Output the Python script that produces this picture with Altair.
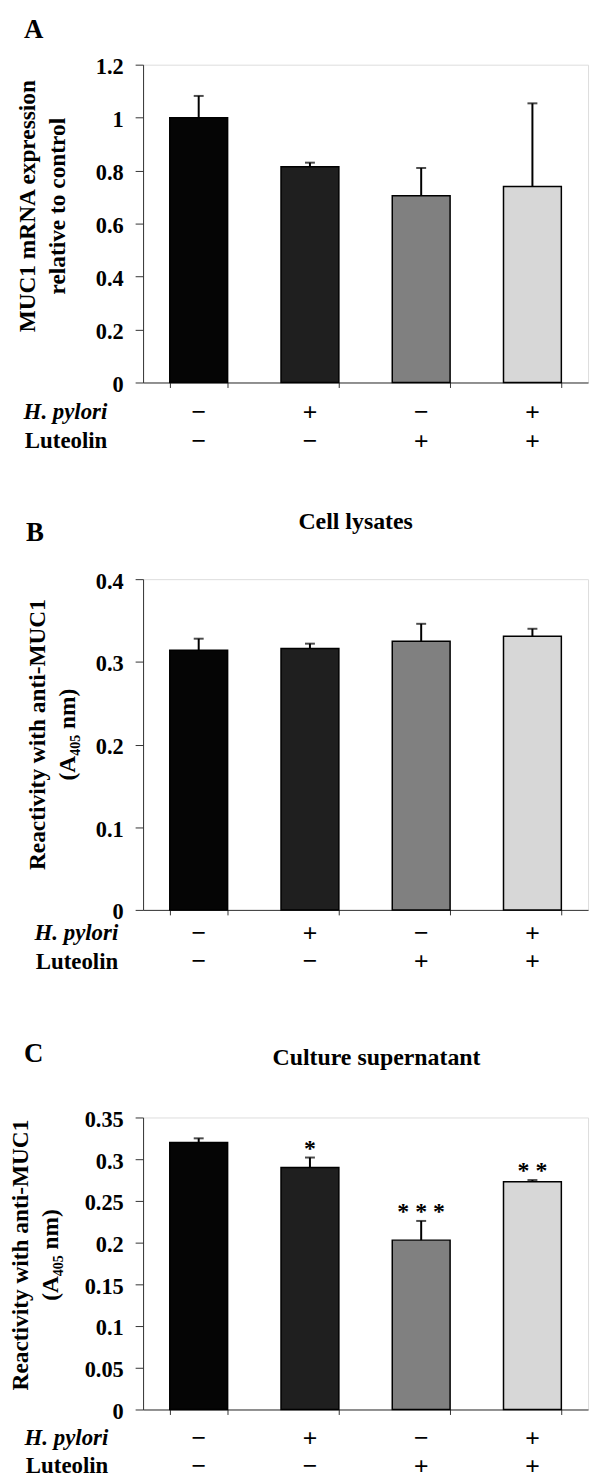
import altair as alt
import pandas as pd

# ---------------- data ----------------
conditions = ["Control", "H. pylori", "Luteolin", "H. pylori + Luteolin"]
hpylori_signs = ["−", "+", "−", "+"]
luteolin_signs = ["−", "−", "+", "+"]
bar_colors = ["#050505", "#1f1f1f", "#808080", "#d7d7d7"]

a_values = [1.00, 0.815, 0.705, 0.74]
a_err_top = [1.082, 0.830, 0.810, 1.054]
a_ticks = [0, 0.2, 0.4, 0.6, 0.8, 1, 1.2]

b_values = [0.314, 0.316, 0.325, 0.331]
b_err_top = [0.328, 0.322, 0.346, 0.340]
b_ticks = [0, 0.1, 0.2, 0.3, 0.4]

c_values = [0.320, 0.290, 0.203, 0.273]
c_err_top = [0.325, 0.302, 0.226, 0.275]
c_ticks = [0, 0.05, 0.1, 0.15, 0.2, 0.25, 0.3, 0.35]
c_marks = ["", "*", "* * *", "* *"]

SERIF = "Liberation Serif"
SANS = "Liberation Sans"
AX = "#333333"


def panel(values, err_top, ticks, ymax, ytitle, h, letter, subtitle, marks, lay):
    df = pd.DataFrame({
        "cond": conditions, "value": values, "err": err_top,
        "hp": hpylori_signs, "lut": luteolin_signs,
        "mark": marks if marks else [""] * 4,
    })
    xscale = alt.Scale(paddingInner=0.48, paddingOuter=0.24)
    xenc = alt.X("cond:N", sort=conditions, scale=xscale,
                 axis=alt.Axis(labels=False, title=None, tickBand="extent",
                               tickSize=5, domainColor=AX, tickColor=AX,
                               domainWidth=1, tickWidth=1))
    xplain = alt.X("cond:N", sort=conditions)
    yscale = alt.Scale(domain=[0, ymax], nice=False, zero=True)
    yaxis = alt.Axis(values=ticks, format="~g", title=ytitle, grid=False,
                     tickSize=8, labelPadding=12, labelFont=SERIF,
                     labelFontWeight="bold", labelFontSize=22.5,
                     labelColor="black", labelOffset=2,
                     domainColor=AX, tickColor=AX,
                     titleFont=SERIF, titleFontWeight="bold",
                     titleFontSize=23.5, titleColor="black", titleAngle=270,
                     titleX=lay["tx"], titleY=lay["ty"], titleAlign="center",
                     titleBaseline="alphabetic", titleLineHeight=30)
    base = alt.Chart(df)
    bars = base.mark_bar(stroke="black", strokeWidth=1.5).encode(
        x=xenc,
        y=alt.Y("value:Q", scale=yscale, axis=yaxis),
        color=alt.Color("cond:N", scale=alt.Scale(domain=conditions, range=bar_colors), legend=None),
    )
    rule = base.mark_rule(color="black", strokeWidth=2).encode(
        x=xplain, y="value:Q", y2="err:Q")
    cap = base.mark_tick(color="black", thickness=2, size=10).encode(
        x=xplain, y="err:Q")
    row1 = base.mark_text(font=SANS, fontSize=25, baseline="middle").encode(
        x=xplain, y=alt.value(h + lay["r1"]), text="hp:N")
    row2 = base.mark_text(font=SANS, fontSize=25, baseline="middle").encode(
        x=xplain, y=alt.value(h + lay["r2"]), text="lut:N")
    lab1 = alt.Chart(pd.DataFrame({"t": ["H. pylori"]})).mark_text(
        font=SERIF, fontSize=23, fontWeight="bold", fontStyle="italic",
        align="right", baseline="middle").encode(
        text="t:N", x=alt.value(lay["lx"]), y=alt.value(h + lay["r1"]))
    lab2 = alt.Chart(pd.DataFrame({"t": ["Luteolin"]})).mark_text(
        font=SERIF, fontSize=23, fontWeight="bold",
        align="right", baseline="middle").encode(
        text="t:N", x=alt.value(lay["lx"]), y=alt.value(h + lay["r2"]))
    let = alt.Chart(pd.DataFrame({"t": [letter]})).mark_text(
        font=SERIF, fontSize=27, fontWeight="bold", align="left",
        baseline="alphabetic").encode(
        text="t:N", x=alt.value(lay["Lx"]), y=alt.value(lay["Ly"]))
    layers = [bars, rule, cap, row1, row2, lab1, lab2, let]
    if subtitle:
        sub = alt.Chart(pd.DataFrame({"t": [subtitle]})).mark_text(
            font=SERIF, fontSize=24, fontWeight="bold", align="center",
            baseline="alphabetic").encode(
            text="t:N", x=alt.value(lay["sx"]), y=alt.value(lay["sy"]))
        layers.append(sub)
    if marks:
        stars = base.mark_text(font=SERIF, fontSize=24, fontWeight="bold",
                               baseline="middle", dy=-9).encode(
            x=xplain, y="err:Q", text="mark:N")
        layers.append(stars)
    return alt.layer(*layers).properties(width=448, height=h)


A = panel(a_values, a_err_top, a_ticks, 1.2,
          ["MUC1 mRNA expression", "relative to control"], 320, "A", None, None,
          dict(tx=-109.5, ty=142, lx=-36, r1=30, r2=59, Lx=-120, Ly=-27))
B = panel(b_values, b_err_top, b_ticks, 0.4,
          ["Reactivity with anti-MUC1", "(A₄₀₅ nm)"], 333, "B", "Cell lysates", None,
          dict(tx=-99.5, ty=156, lx=-25, r1=23.5, r2=52, Lx=-118, Ly=-38,
               sx=214, sy=-51))
C = panel(c_values, c_err_top, c_ticks, 0.35,
          ["Reactivity with anti-MUC1", "(A₄₀₅ nm)"], 294, "C", "Culture supernatant", c_marks,
          dict(tx=-116, ty=138, lx=-35, r1=29, r2=57, Lx=-120, Ly=-55.5,
               sx=235, sy=-52.5))

lower = alt.vconcat(B, C, spacing=209, bounds="flush")
chart = alt.vconcat(A, lower, spacing=198, bounds="flush").properties(
    padding={"left": 0, "top": 2, "right": 5, "bottom": 5}
).configure_view(stroke=None).configure(background="white")

chart.save("out.html", embed_options={"renderer": "svg", "actions": False})
